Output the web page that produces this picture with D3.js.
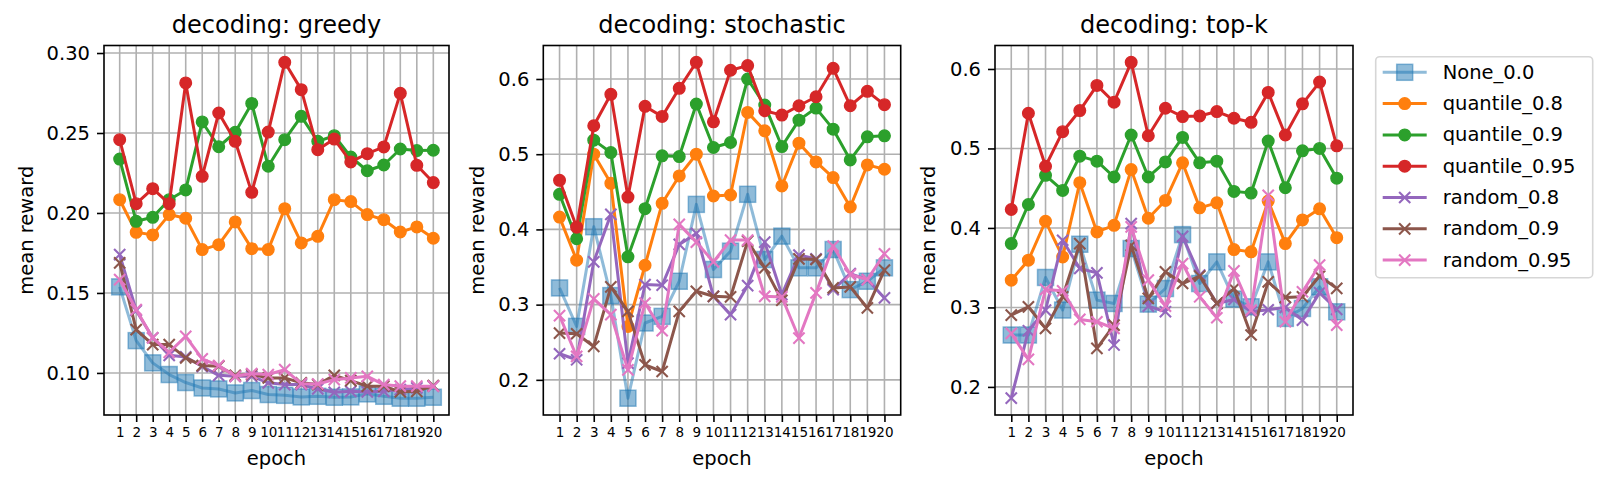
<!DOCTYPE html>
<html>
<head>
<meta charset="utf-8">
<script src="https://cdn.jsdelivr.net/npm/d3@7"></script>
<style>
  body { margin: 0; background: #fff; }
  text { font-family: "DejaVu Sans", sans-serif; fill: #000; }
</style>
</head>
<body>
<script>
// mean reward per epoch, one array per run, one set per decoding mode
var epochs = [1, 2, 3, 4, 5, 6, 7, 8, 9, 10, 11, 12, 13, 14, 15, 16, 17, 18, 19, 20];
var seriesNames = ["None_0.0", "quantile_0.8", "quantile_0.9", "quantile_0.95", "random_0.8", "random_0.9", "random_0.95"];
var panelTitles = ["decoding: greedy", "decoding: stochastic", "decoding: top-k"];
var greedyTicks = [0.10, 0.15, 0.20, 0.25, 0.30];
var otherTicks = [0.2, 0.3, 0.4, 0.5, 0.6];

var greedyNone = [0.1538, 0.1202, 0.1063, 0.0990, 0.0940, 0.0906, 0.0900, 0.0875, 0.0890, 0.0865, 0.0860, 0.0850, 0.0854, 0.0848, 0.0850, 0.0869, 0.0854, 0.0842, 0.0842, 0.0848];
var greedyQ08 = [0.2083, 0.1879, 0.1863, 0.1990, 0.1967, 0.1771, 0.1802, 0.1944, 0.1777, 0.1771, 0.2027, 0.1813, 0.1854, 0.2083, 0.2071, 0.1990, 0.1958, 0.1881, 0.1913, 0.1842];
var greedyQ09 = [0.2337, 0.1948, 0.1973, 0.2083, 0.2144, 0.2569, 0.2414, 0.2504, 0.2685, 0.2292, 0.2458, 0.2604, 0.2448, 0.2483, 0.2350, 0.2264, 0.2300, 0.2400, 0.2390, 0.2392];
var greedyQ095 = [0.2458, 0.2058, 0.2152, 0.2058, 0.2813, 0.2229, 0.2625, 0.2448, 0.2129, 0.2506, 0.2942, 0.2771, 0.2396, 0.2462, 0.2319, 0.2371, 0.2413, 0.2748, 0.2298, 0.2190];
var greedyR08 = [0.1740, 0.1390, 0.1220, 0.1110, 0.1100, 0.1040, 0.0985, 0.0979, 0.0979, 0.0938, 0.0927, 0.0927, 0.0900, 0.0879, 0.0885, 0.0881, 0.0885, 0.0896, 0.0906, 0.0917];
var greedyR09 = [0.1688, 0.1271, 0.1177, 0.1177, 0.1094, 0.1046, 0.1042, 0.0985, 0.0990, 0.0969, 0.0969, 0.0938, 0.0927, 0.0985, 0.0952, 0.0917, 0.0917, 0.0881, 0.0885, 0.0921];
var greedyR095 = [0.1583, 0.1396, 0.1219, 0.1129, 0.1229, 0.1088, 0.1046, 0.0979, 0.0996, 0.0990, 0.1021, 0.0933, 0.0931, 0.0958, 0.0969, 0.0979, 0.0927, 0.0917, 0.0917, 0.0917];

var stochNone = [0.3222, 0.2711, 0.4036, 0.3120, 0.1756, 0.2756, 0.2844, 0.3311, 0.4333, 0.3467, 0.3711, 0.4467, 0.3600, 0.3911, 0.3489, 0.3489, 0.3733, 0.3200, 0.3311, 0.3489];
var stochQ08 = [0.4164, 0.3591, 0.5000, 0.4613, 0.2710, 0.3524, 0.4347, 0.4711, 0.5000, 0.4444, 0.4458, 0.5556, 0.5311, 0.4578, 0.5147, 0.4898, 0.4689, 0.4298, 0.4858, 0.4800];
var stochQ09 = [0.4467, 0.3876, 0.5187, 0.5022, 0.3636, 0.4276, 0.4978, 0.4969, 0.5667, 0.5089, 0.5156, 0.6000, 0.5653, 0.5102, 0.5453, 0.5613, 0.5333, 0.4924, 0.5231, 0.5244];
var stochQ095 = [0.4653, 0.4030, 0.5378, 0.5796, 0.4430, 0.5636, 0.5502, 0.5876, 0.6222, 0.5431, 0.6116, 0.6178, 0.5578, 0.5520, 0.5644, 0.5764, 0.6142, 0.5644, 0.5836, 0.5658];
var stochR08 = [0.2347, 0.2267, 0.3569, 0.4200, 0.2222, 0.3267, 0.3258, 0.3800, 0.3947, 0.3111, 0.2867, 0.3253, 0.3831, 0.3133, 0.3658, 0.3609, 0.3200, 0.3413, 0.3333, 0.3089];
var stochR09 = [0.2622, 0.2613, 0.2444, 0.3236, 0.2911, 0.2200, 0.2111, 0.2911, 0.3178, 0.3111, 0.3102, 0.3844, 0.3489, 0.3058, 0.3609, 0.3600, 0.3222, 0.3236, 0.2956, 0.3458];
var stochR095 = [0.2853, 0.2311, 0.3076, 0.2867, 0.2133, 0.3022, 0.2653, 0.4067, 0.3831, 0.3569, 0.3858, 0.3858, 0.3111, 0.3102, 0.2556, 0.3156, 0.3778, 0.3400, 0.3333, 0.3676];

var topkNone = [0.2653, 0.2653, 0.3377, 0.2967, 0.3795, 0.3092, 0.3050, 0.3741, 0.3042, 0.3238, 0.3916, 0.3301, 0.3573, 0.3105, 0.3008, 0.3573, 0.2862, 0.2987, 0.3260, 0.2945];
var topkQ08 = [0.3343, 0.3594, 0.4084, 0.3636, 0.4570, 0.3950, 0.4033, 0.4734, 0.4122, 0.4346, 0.4819, 0.4253, 0.4316, 0.3728, 0.3699, 0.4338, 0.3803, 0.4101, 0.4241, 0.3878];
var topkQ09 = [0.3803, 0.4295, 0.4662, 0.4472, 0.4903, 0.4840, 0.4641, 0.5169, 0.4641, 0.4831, 0.5139, 0.4819, 0.4840, 0.4460, 0.4439, 0.5093, 0.4506, 0.4970, 0.5000, 0.4626];
var topkQ095 = [0.4232, 0.5443, 0.4776, 0.5211, 0.5477, 0.5793, 0.5582, 0.6084, 0.5160, 0.5506, 0.5401, 0.5409, 0.5464, 0.5380, 0.5329, 0.5705, 0.5169, 0.5561, 0.5835, 0.5033];
var topkR08 = [0.1858, 0.2707, 0.2967, 0.3845, 0.3490, 0.3435, 0.2527, 0.4054, 0.3017, 0.2946, 0.3895, 0.3406, 0.3050, 0.3100, 0.2946, 0.2971, 0.3000, 0.2840, 0.3185, 0.2975];
var topkR09 = [0.2904, 0.3008, 0.2736, 0.3134, 0.3803, 0.2485, 0.2778, 0.3782, 0.3113, 0.3448, 0.3301, 0.3393, 0.3050, 0.3238, 0.2653, 0.3322, 0.3126, 0.3134, 0.3395, 0.3240];
var topkR095 = [0.2674, 0.2347, 0.3226, 0.3209, 0.2849, 0.2820, 0.2736, 0.4013, 0.3343, 0.3017, 0.3552, 0.3134, 0.2870, 0.3460, 0.2967, 0.4410, 0.2820, 0.3197, 0.3534, 0.2777];

// styling, kept apart from the values
var colors = ["#1f77b4", "#ff7f0e", "#2ca02c", "#d62728", "#9467bd", "#8c564b", "#e377c2"];
var markers = ["s", "o", "o", "o", "x", "x", "x"];

var W = 1608, H = 489;
var plotTop = 45.5, plotBottom = 415;

var panels = [
  { title: panelTitles[0], left: 104, right: 449, ylabelX: 26, ticks: greedyTicks, fmt: d3.format(".2f"),
    series: [greedyNone, greedyQ08, greedyQ09, greedyQ095, greedyR08, greedyR09, greedyR095] },
  { title: panelTitles[1], left: 543.3, right: 900.7, ylabelX: 477, ticks: otherTicks, fmt: d3.format(".1f"),
    series: [stochNone, stochQ08, stochQ09, stochQ095, stochR08, stochR09, stochR095] },
  { title: panelTitles[2], left: 995, right: 1353, ylabelX: 928, ticks: otherTicks, fmt: d3.format(".1f"),
    series: [topkNone, topkQ08, topkQ09, topkQ095, topkR08, topkR09, topkR095] }
];

var svg = d3.select("body")
  .append("svg")
  .attr("width", W)
  .attr("height", H)
  .style("display", "block");

svg.append("rect").attr("width", W).attr("height", H).attr("fill", "#fff");

function drawMarker(g, type, color, cx, cy) {
  if (type === "s") {
    g.append("rect")
      .attr("x", cx - 8).attr("y", cy - 8)
      .attr("width", 16).attr("height", 16)
      .attr("fill", color).attr("fill-opacity", 0.5)
      .attr("stroke", color).attr("stroke-opacity", 0.5).attr("stroke-width", 1.5);
  } else if (type === "o") {
    g.append("circle")
      .attr("cx", cx).attr("cy", cy).attr("r", 5.8)
      .attr("fill", color).attr("stroke", color).attr("stroke-width", 1.4);
  } else {
    var s = 5.6;
    g.append("path")
      .attr("d", "M" + (cx - s) + "," + (cy - s) + "L" + (cx + s) + "," + (cy + s) +
                 "M" + (cx - s) + "," + (cy + s) + "L" + (cx + s) + "," + (cy - s))
      .attr("stroke", color).attr("stroke-width", 2.1).attr("fill", "none");
  }
}

panels.forEach(function(p) {
  var g = svg.append("g");

  var xScale = d3.scaleLinear()
    .domain([epochs[0] - 0.95, epochs[epochs.length - 1] + 0.95])
    .range([p.left, p.right]);

  // matplotlib style 5% padding around the data
  var all = d3.merge(p.series);
  var lo = d3.min(all), hi = d3.max(all), pad = (hi - lo) * 0.05;
  var yScale = d3.scaleLinear()
    .domain([lo - pad, hi + pad])
    .range([plotBottom, plotTop]);

  // grid
  g.selectAll("line.vgrid")
    .data(epochs)
    .enter()
    .append("line")
    .attr("x1", function(d) { return xScale(d); })
    .attr("x2", function(d) { return xScale(d); })
    .attr("y1", plotTop).attr("y2", plotBottom)
    .attr("stroke", "#b0b0b0").attr("stroke-width", 1.6);
  g.selectAll("line.hgrid")
    .data(p.ticks)
    .enter()
    .append("line")
    .attr("x1", p.left).attr("x2", p.right)
    .attr("y1", function(d) { return yScale(d); })
    .attr("y2", function(d) { return yScale(d); })
    .attr("stroke", "#b0b0b0").attr("stroke-width", 1.6);

  var line = d3.line()
    .x(function(d, i) { return xScale(epochs[i]); })
    .y(function(d) { return yScale(d); });

  p.series.forEach(function(vals, k) {
    var sg = g.append("g");
    sg.append("path")
      .attr("d", line(vals))
      .attr("fill", "none")
      .attr("stroke", colors[k])
      .attr("stroke-opacity", k === 0 ? 0.5 : 1)
      .attr("stroke-width", 3)
      .attr("stroke-linejoin", "round");
    vals.forEach(function(v, i) {
      drawMarker(sg, markers[k], colors[k], xScale(epochs[i]), yScale(v));
    });
  });

  // axes
  var yAxis = d3.axisLeft(yScale)
    .tickValues(p.ticks)
    .tickFormat(p.fmt)
    .tickSize(7)
    .tickPadding(7);
  var ya = g.append("g")
    .attr("transform", "translate(" + p.left + ",0)")
    .call(yAxis);
  ya.select(".domain").remove();
  ya.selectAll("line").attr("stroke", "#000").attr("stroke-width", 1.6);
  ya.selectAll("text").attr("font-size", "19.5px").attr("font-family", "DejaVu Sans").attr("fill", "#000");

  var xAxis = d3.axisBottom(xScale)
    .tickValues(epochs)
    .tickFormat(d3.format("d"))
    .tickSize(7)
    .tickPadding(5);
  var xa = g.append("g")
    .attr("transform", "translate(0," + plotBottom + ")")
    .call(xAxis);
  xa.select(".domain").remove();
  xa.selectAll("line").attr("stroke", "#000").attr("stroke-width", 1.6);
  xa.selectAll("text").attr("font-size", "13.5px").attr("font-family", "DejaVu Sans").attr("fill", "#000");

  // frame
  g.append("rect")
    .attr("x", p.left).attr("y", plotTop)
    .attr("width", p.right - p.left).attr("height", plotBottom - plotTop)
    .attr("fill", "none").attr("stroke", "#000").attr("stroke-width", 1.6);

  g.append("text")
    .attr("x", (p.left + p.right) / 2)
    .attr("y", 33)
    .attr("text-anchor", "middle")
    .attr("font-size", "24px")
    .text(p.title);

  g.append("text")
    .attr("x", (p.left + p.right) / 2)
    .attr("y", 465)
    .attr("text-anchor", "middle")
    .attr("font-size", "19.5px")
    .text("epoch");

  g.append("text")
    .attr("transform", "translate(" + p.ylabelX + "," + ((plotTop + plotBottom) / 2) + ") rotate(-90)")
    .attr("text-anchor", "middle")
    .attr("dominant-baseline", "central")
    .attr("font-size", "19.5px")
    .text("mean reward");
});

// legend
var leg = svg.append("g");
leg.append("rect")
  .attr("x", 1375.7).attr("y", 56.7)
  .attr("width", 217).attr("height", 221)
  .attr("rx", 4)
  .attr("fill", "#fff").attr("fill-opacity", 0.8)
  .attr("stroke", "#d6d6d6").attr("stroke-width", 1.6);

var legendY = d3.scalePoint()
  .domain(seriesNames)
  .range([72.3, 260.1]);

seriesNames.forEach(function(name, k) {
  var cy = legendY(name);
  leg.append("line")
    .attr("x1", 1382.7).attr("x2", 1426.7)
    .attr("y1", cy).attr("y2", cy)
    .attr("stroke", colors[k])
    .attr("stroke-opacity", k === 0 ? 0.5 : 1)
    .attr("stroke-width", 3);
  drawMarker(leg, markers[k], colors[k], 1404.7, cy);
  leg.append("text")
    .attr("x", 1442.7)
    .attr("y", cy)
    .attr("dominant-baseline", "central")
    .attr("font-size", "19.5px")
    .text(name);
});
</script>
</body>
</html>
